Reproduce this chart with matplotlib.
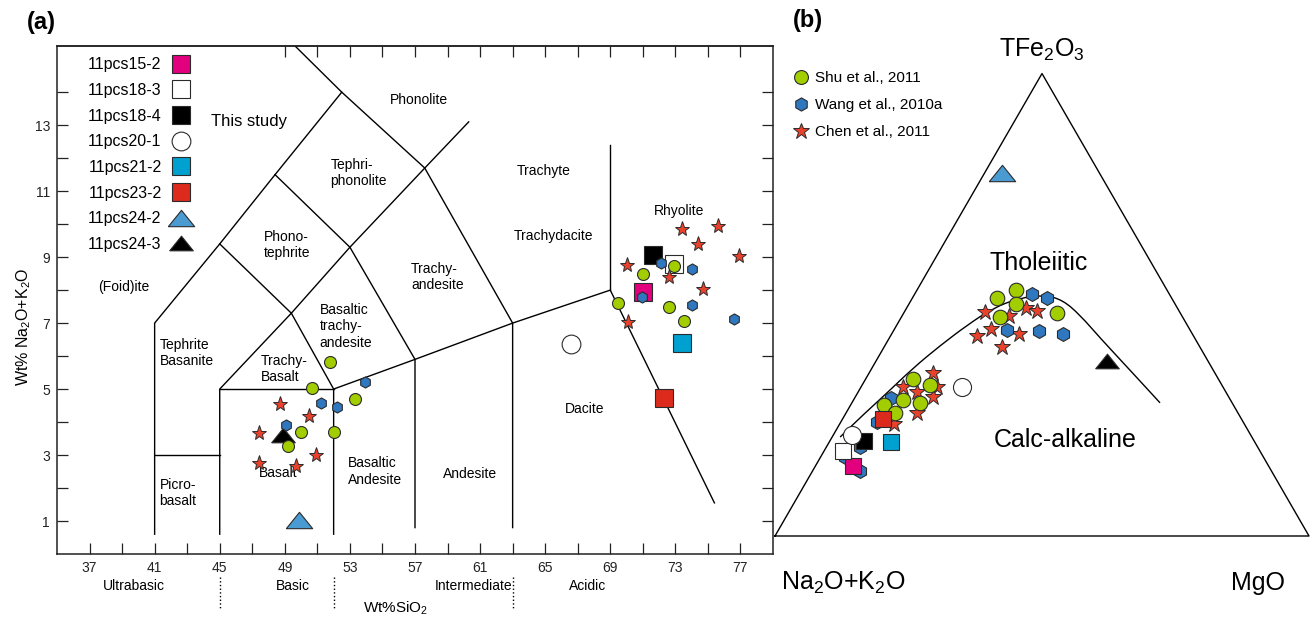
import numpy as np
import matplotlib.pyplot as plt
from matplotlib.lines import Line2D
from matplotlib.path import Path
from matplotlib.patches import PathPatch
from matplotlib.transforms import blended_transform_factory

plt.rcParams['font.family'] = ['Liberation Sans', 'DejaVu Sans']
plt.rcParams['mathtext.fontset'] = 'custom'
plt.rcParams['mathtext.rm'] = 'Liberation Sans'
plt.rcParams['mathtext.it'] = 'Liberation Sans:italic'
plt.rcParams['mathtext.bf'] = 'Liberation Sans:bold'

# ---------------- panel (a): TAS diagram, SiO2 vs Na2O+K2O (wt%) ----------------
study_names = ['11pcs15-2', '11pcs18-3', '11pcs18-4', '11pcs20-1',
               '11pcs21-2', '11pcs23-2', '11pcs24-2', '11pcs24-3']
study_sio2 = [71.0, 72.9, 71.6, 66.6, 73.4, 72.3, 49.9, 48.9]
study_alk = [7.94, 8.79, 9.06, 6.36, 6.39, 4.73, 1.03, 3.6]

shu_sio2 = [51.8, 50.7, 53.3, 50.0, 49.2, 52.0, 71.0, 72.9, 69.5, 72.6, 73.5]
shu_alk = [5.82, 5.03, 4.7, 3.7, 3.27, 3.7, 8.48, 8.73, 7.6, 7.48, 7.06]

wang_sio2 = [53.9, 51.2, 52.2, 49.1, 72.1, 74.0, 70.95, 74.0, 76.6]
wang_alk = [5.2, 4.58, 4.45, 3.9, 8.81, 8.63, 7.8, 7.55, 7.12]

chen_sio2 = [48.7, 50.5, 47.4, 50.9, 47.4, 49.7, 73.4, 75.6, 74.4, 76.9, 70.0, 72.6, 74.7, 70.1]
chen_alk = [4.55, 4.18, 3.67, 3.0, 2.76, 2.67, 9.85, 9.94, 9.4, 9.03, 8.76, 8.4, 8.03, 7.03]

# TAS field boundaries (SiO2, alkali)
tas_lines = [
    [(41, 0.6), (41, 7), (45, 9.4), (48.4, 11.5), (52.5, 14), (48.4, 16)],
    [(41, 3), (45, 3)],
    [(45, 0.6), (45, 5), (49.4, 7.3), (53, 9.3), (57.6, 11.7), (60.3, 13.1)],
    [(45, 5), (52, 5)],
    [(52, 0.6), (52, 5), (57, 5.9), (63, 7), (69, 8), (75.4, 1.55)],
    [(52, 5), (49.4, 7.3)],
    [(57, 0.8), (57, 5.9), (53, 9.3), (48.4, 11.5)],
    [(45, 9.4), (49.4, 7.3)],
    [(52.5, 14), (57.6, 11.7), (63, 7), (63, 0.8)],
    [(69, 8), (69, 12.4)],
]
field_names = ['Phonolite', 'Tephri-\nphonolite', 'Phono-\ntephrite', 'Trachy-\nandesite',
               'Basaltic\ntrachy-\nandesite', 'Trachyte', 'Trachydacite', 'Rhyolite',
               'Dacite', 'Andesite', 'Basaltic\nAndesite', 'Basalt', 'Picro-\nbasalt',
               'Tephrite\nBasanite', 'Trachy-\nBasalt', '(Foid)ite']
field_x = [57.25, 51.8, 47.7, 56.75, 51.15, 64.9, 65.5, 73.2, 67.4, 60.4, 52.9, 48.6, 41.3, 41.3, 47.5, 39.1]
field_y = [13.75, 11.55, 9.36, 8.4, 6.9, 11.6, 9.64, 10.4, 4.4, 2.42, 2.5, 2.45, 1.85, 6.1, 5.6, 8.1]
field_ha = ['center', 'left', 'left', 'left', 'left', 'center', 'center', 'center',
            'center', 'center', 'left', 'center', 'left', 'left', 'left', 'center']

class_names = ['Ultrabasic', 'Basic', 'Intermediate', 'Acidic']
class_x = [39.7, 49.5, 60.6, 67.6]
class_bounds = [45, 52, 63]

# ---------------- panel (b): AFM ternary, (A, F, M) in % ----------------
tern_sample = [0, 1, 2, 3, 3, 4, 5, 6, 7]
tern_A = [77.9, 78.1, 73.1, 48.9, 74.7, 68.1, 67.1, 18.2, 18.9]
tern_F = [15.1, 18.4, 20.5, 32.2, 21.8, 20.3, 25.3, 78.5, 37.8]
tern_M = [7.0, 3.5, 6.4, 18.9, 3.5, 11.6, 7.6, 3.3, 43.3]

shu_A = [32.7, 28.3, 29.8, 34.2, 23.1, 57.2, 54.6, 61.3, 58.5, 65.4, 64.2]
shu_F = [51.5, 53.2, 50.2, 47.4, 48.2, 34.0, 32.7, 29.4, 28.8, 28.3, 26.6]
shu_M = [15.8, 18.5, 20.0, 18.4, 28.7, 8.8, 12.7, 9.3, 12.7, 6.3, 9.2]

wang_A = [25.7, 23.3, 34.3, 28.4, 24.2, 63.4, 78.4, 77.1, 74.4, 68.6]
wang_F = [52.3, 51.5, 44.6, 44.3, 43.7, 29.8, 17.1, 14.0, 19.3, 24.7]
wang_M = [22.0, 25.2, 21.1, 27.3, 32.1, 6.8, 4.5, 8.9, 6.3, 6.7]

chen_A = [36.5, 28.3, 26.6, 37.2, 40.5, 32.5, 37.1, 32.4, 52.8, 59.9, 57.8, 53.6, 55.4, 60.1, 67.2]
chen_F = [48.4, 49.3, 48.7, 44.8, 43.3, 43.7, 40.9, 47.6, 35.3, 32.2, 31.1, 32.2, 30.1, 26.6, 24.9]
chen_M = [15.1, 22.4, 24.7, 18.0, 16.2, 23.8, 22.0, 20.0, 11.9, 7.9, 11.1, 14.2, 14.5, 13.3, 10.4]

# tholeiitic / calc-alkaline divide
div_A = [77.1, 70.4, 63.6, 56.0, 48.6, 41.2, 34.5, 28.4, 23.4, 20.6, 19.0, 17.7, 15.6, 13.5]
div_F = [21.4, 26.2, 30.9, 36.3, 41.1, 45.6, 49.3, 51.5, 52.1, 51.0, 47.8, 42.8, 35.9, 28.8]
div_M = [1.5, 3.4, 5.5, 7.7, 10.3, 13.2, 16.2, 20.1, 24.5, 28.4, 33.2, 39.5, 48.5, 57.7]

# styles
tri = [(-1, -0.62), (1, -0.62), (0, 0.62), (-1, -0.62)]
study_face = ['#e2007e', 'white', 'black', 'white', '#00a0d0', '#dc2a1c', '#4b9bd3', 'black']
study_marker = ['s', 's', 's', 'o', 's', 's', tri, tri]
study_ms_a = [13.5, 13.5, 13.5, 13.5, 13.5, 13.5, 19, 17]
study_ms_b = [11.5, 11.5, 11.5, 13, 11.5, 11.5, 19, 17]
GREEN, BLUE, RED = '#a2cd00', '#2f78c0', '#e8412c'
EDGE = '#2b2b2b'


def tern_xy(a, f, m):
    a, f, m = np.asarray(a, float), np.asarray(f, float), np.asarray(m, float)
    tot = a + f + m
    f, m = f / tot, m / tot
    return m + f / 2.0, f * np.sqrt(3) / 2.0


def smooth_path(xs, ys):
    """Quadratic curve through the midpoints of a polyline."""
    pts = np.column_stack([xs, ys])
    verts = [pts[0], (pts[0] + pts[1]) / 2]
    codes = [Path.MOVETO, Path.LINETO]
    for i in range(1, len(pts) - 1):
        verts += [pts[i], (pts[i] + pts[i + 1]) / 2]
        codes += [Path.CURVE3, Path.CURVE3]
    verts.append(pts[-1])
    codes.append(Path.LINETO)
    return Path(verts, codes)


fig = plt.figure(figsize=(13.12, 6.21), dpi=100)

# ---------- (a)
ax = fig.add_axes([57 / 1312, 1 - 554 / 621, 716 / 1312, 508 / 621])
ax.set_xlim(35, 79)
ax.set_ylim(0, 15.4)

for seg in tas_lines:
    xs, ys = zip(*seg)
    ax.plot(xs, ys, color='black', lw=1.0, zorder=1)

for name, x, y, ha in zip(field_names, field_x, field_y, field_ha):
    ax.text(x, y, name, ha=ha, va='center', fontsize=10, linespacing=1.2)
ax.text(46.8, 13.1, 'This study', ha='center', va='center', fontsize=12)

for i in range(len(study_names)):
    ax.plot(study_sio2[i], study_alk[i], ls='none', marker=study_marker[i],
            ms=study_ms_a[i], mfc=study_face[i], mec=EDGE, mew=0.8, zorder=3)

ax.plot(shu_sio2, shu_alk, 'o', ms=8.6, mfc=GREEN, mec=EDGE, mew=0.8, zorder=4)
ax.plot(wang_sio2, wang_alk, 'h', ms=8.0, mfc=BLUE, mec=EDGE, mew=0.8, zorder=4)
ax.plot(chen_sio2, chen_alk, '*', ms=11, mfc=RED, mec=EDGE, mew=0.7, zorder=4)

ax.set_xticks(np.arange(37, 78, 4))
ax.set_xticks(np.arange(39, 78, 4), minor=True)
ax.set_yticks(np.arange(1, 14, 2))
ax.set_yticks(np.arange(2, 15, 2), minor=True)
ax.tick_params(which='both', direction='in', length=8, width=0.9, right=True,
               labelsize=10, colors='#222222', pad=5)
top = ax.secondary_xaxis('top')
top.set_xticks(np.arange(49, 78, 2))
top.tick_params(direction='in', length=8, width=0.9, labeltop=False, colors='#222222')
for sp in list(ax.spines.values()) + list(top.spines.values()):
    sp.set_linewidth(1.1)
    sp.set_color('#222222')

ax.set_ylabel('Wt% Na$_2$O+K$_2$O', fontsize=11.5)
ax.yaxis.set_label_coords(-0.034, 0.447)

trans = blended_transform_factory(ax.transData, ax.transAxes)
for name, x in zip(class_names, class_x):
    ax.text(x, -0.063, name, transform=trans, ha='center', va='center', fontsize=10)
for b in class_bounds:
    ax.plot([b, b], [-0.045, -0.106], transform=trans, ls=':', lw=1.0,
            color='black', clip_on=False)
ax.text(55.8, -0.107, 'Wt%SiO$_2$', transform=trans, ha='center', va='center', fontsize=11)

handles = [Line2D([], [], ls='none', marker=study_marker[i], ms=study_ms_a[i],
                  mfc=study_face[i], mec=EDGE, mew=0.8) for i in range(len(study_names))]
ax.legend(handles, study_names, loc='upper left', bbox_to_anchor=(0.043, 0.978),
          markerfirst=False, frameon=False, fontsize=11.5, labelspacing=0.67,
          handlelength=1.4, handletextpad=0.5, borderpad=0, borderaxespad=0)

fig.text(41 / 1312, 1 - 22 / 621, '(a)', fontsize=17, fontweight='bold',
         ha='center', va='center')

# ---------- (b)
bx = fig.add_axes([775 / 1312, 0, 537 / 1312, 1])
bx.set_xlim(0, 537 / 534)
bx.set_ylim(-85 / 534, 536 / 534)
bx.axis('off')

vx, vy = tern_xy([100, 0, 0, 100], [0, 0, 100, 0], [0, 100, 0, 0])
bx.plot(vx, vy, color='black', lw=1.0, clip_on=False)

dx, dy = tern_xy(div_A, div_F, div_M)
bx.add_patch(PathPatch(smooth_path(dx, dy), fill=False, edgecolor='black', lw=1.0))

x, y = tern_xy(chen_A, chen_F, chen_M)
bx.plot(x, y, '*', ms=12, mfc=RED, mec=EDGE, mew=0.7, zorder=3)
x, y = tern_xy(wang_A, wang_F, wang_M)
bx.plot(x, y, 'h', ms=10, mfc=BLUE, mec=EDGE, mew=0.8, zorder=3)
x, y = tern_xy(shu_A, shu_F, shu_M)
bx.plot(x, y, 'o', ms=10.5, mfc=GREEN, mec=EDGE, mew=0.8, zorder=3)

tx, ty = tern_xy(tern_A, tern_F, tern_M)
for k, i in enumerate(tern_sample):
    bx.plot(tx[k], ty[k], ls='none', marker=study_marker[i], ms=study_ms_b[i],
            mfc=study_face[i], mec=EDGE, mew=0.8, zorder=4)

bx.text(0.5, 0.91, 'TFe$_2$O$_3$', ha='center', va='center', fontsize=18)
bx.text(0.127, -0.088, 'Na$_2$O+K$_2$O', ha='center', va='center', fontsize=18)
bx.text(0.905, -0.088, 'MgO', ha='center', va='center', fontsize=18)
bx.text(0.494, 0.511, 'Tholeiitic', ha='center', va='center', fontsize=18)
bx.text(0.543, 0.18, 'Calc-alkaline', ha='center', va='center', fontsize=18)

lit_handles = [
    Line2D([], [], ls='none', marker='o', ms=10, mfc=GREEN, mec=EDGE, mew=0.8),
    Line2D([], [], ls='none', marker='h', ms=9.5, mfc=BLUE, mec=EDGE, mew=0.8),
    Line2D([], [], ls='none', marker='*', ms=12, mfc=RED, mec=EDGE, mew=0.7),
]
bx.legend(lit_handles, ['Shu et al., 2011', 'Wang et al., 2010a', 'Chen et al., 2011'],
          loc='upper left', bbox_to_anchor=(0.037, 0.871), bbox_transform=bx.transData,
          frameon=False, fontsize=11, labelspacing=0.86, handlelength=0.8,
          handletextpad=0.5, borderpad=0, borderaxespad=0)

fig.text(808 / 1312, 1 - 20 / 621, '(b)', fontsize=17, fontweight='bold',
         ha='center', va='center')

fig.savefig('out.png', dpi=100)
